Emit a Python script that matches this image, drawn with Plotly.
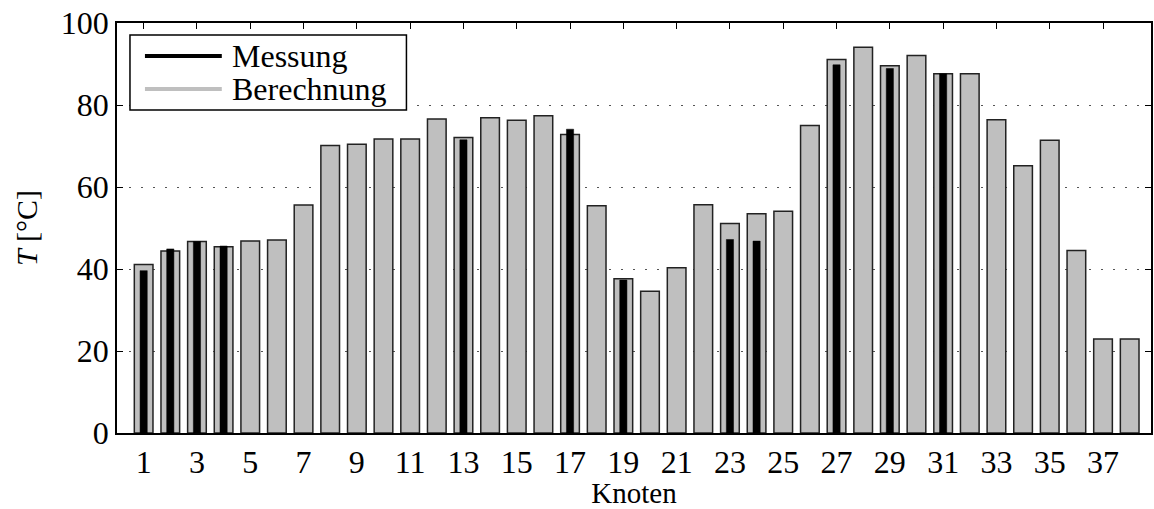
import plotly.graph_objects as go

# Knotennummern 1..38
knoten = list(range(1, 39))

# Berechnete Temperaturen je Knoten in °C
berechnung = [41.1, 44.4, 46.7, 45.4, 46.8, 47.1, 55.6, 70.1, 70.4, 71.7,
              71.7, 76.6, 72.1, 76.9, 76.3, 77.4, 72.8, 55.4, 37.6, 34.6,
              40.3, 55.7, 51.1, 53.5, 54.1, 75.0, 91.1, 94.1, 89.6, 92.1,
              87.6, 87.6, 76.4, 65.2, 71.4, 44.5, 22.9, 22.9]

# Gemessene Temperaturen (nur an instrumentierten Knoten)
messung = [39.6, 44.9, 46.7, 45.6, None, None, None, None, None, None,
           None, None, 71.5, None, None, None, 74.1, None, 37.3, None,
           None, None, 47.2, 46.8, None, None, 89.8, None, 88.9, None,
           87.6, None, None, None, None, None, None, None]

x_ticks = list(range(1, 38, 2))
y_ticks = [0, 20, 40, 60, 80, 100]

FONT = "Liberation Serif, serif"
GRAU = "#bfbfbf"

W, H = 1154, 509
M_L, M_R, M_T, M_B = 117, 1, 23, 76
PW, PH = W - M_L - M_R, H - M_T - M_B


def px_x(px):
    """Pixel column -> paper x."""
    return (px - M_L) / PW


def px_y(py):
    """Pixel row -> paper y."""
    return (H - M_B - py) / PH


fig = go.Figure()

fig.add_trace(go.Bar(
    x=knoten, y=berechnung, width=0.7,
    marker=dict(color=GRAU, line=dict(color="#222222", width=1.5)),
    showlegend=False, name="Berechnung",
))
fig.add_trace(go.Bar(
    x=knoten, y=messung, width=0.27,
    marker=dict(color="black", line=dict(color="black", width=0.5)),
    showlegend=False, name="Messung",
))

# Legende: Rahmen, Linienmuster und Beschriftung
legend_items = [("Messung", "black", 56), ("Berechnung", GRAU, 89)]
shapes = [dict(type="rect", xref="paper", yref="paper",
               x0=px_x(130), x1=px_x(407), y0=px_y(110), y1=px_y(35),
               line=dict(color="black", width=1.5), fillcolor="white",
               layer="above")]
annotations = []
for label, color, row in legend_items:
    shapes.append(dict(type="line", xref="paper", yref="paper",
                       x0=px_x(145), x1=px_x(222), y0=px_y(row), y1=px_y(row),
                       line=dict(color=color, width=4), layer="above"))
    annotations.append(dict(text=label, xref="paper", yref="paper",
                            x=px_x(230), y=px_y(row), xanchor="left",
                            yanchor="middle", showarrow=False,
                            font=dict(family=FONT, size=32, color="black")))

fig.update_layout(
    width=W, height=H,
    margin=dict(l=M_L, r=M_R, t=M_T, b=M_B),
    barmode="overlay",
    showlegend=False,
    plot_bgcolor="white", paper_bgcolor="white",
    font=dict(family=FONT, size=32, color="black"),
    shapes=shapes,
    annotations=annotations,
    xaxis=dict(
        range=[0, 38.8], tickmode="array", tickvals=x_ticks,
        ticktext=[str(v) for v in x_ticks],
        ticks="inside", ticklen=6, tickwidth=1, tickcolor="black",
        showline=True, linecolor="black", linewidth=1.5, mirror="ticks",
        showgrid=False, zeroline=False, layer="below traces",
        tickfont=dict(size=32),
        title=dict(text="Knoten", font=dict(size=29), standoff=6),
    ),
    yaxis=dict(
        range=[0, 100], tickmode="array", tickvals=y_ticks,
        ticktext=[str(v) for v in y_ticks],
        ticks="inside", ticklen=6, tickwidth=1, tickcolor="black",
        showline=True, linecolor="black", linewidth=1.5, mirror="ticks",
        showgrid=True, gridcolor="#555555", gridwidth=1, griddash="2px,10px",
        zeroline=False,
        tickfont=dict(size=32),
        title=dict(text="<i>T</i> [°C]", font=dict(size=30), standoff=14),
    ),
)

fig.write_html("out.html")
